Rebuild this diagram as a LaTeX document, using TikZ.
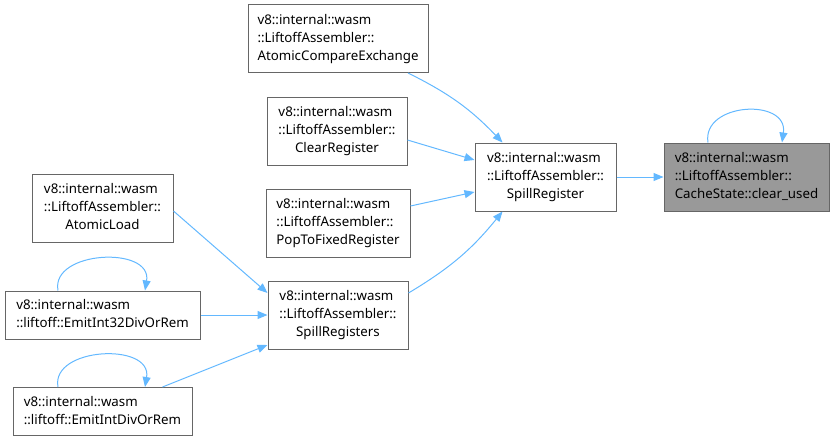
\documentclass[tikz,border=0pt]{standalone}
\usepackage{fontspec}
\setmainfont{Noto Sans}
\usetikzlibrary{arrows.meta}
\definecolor{edgeblue}{HTML}{63B8FF}
\definecolor{boxborder}{HTML}{666666}
\definecolor{hlfill}{HTML}{999999}
\newcommand\dlabel[3]{\begin{tabular}{@{}l@{}}#1\\#2\\\multicolumn{1}{@{}c@{}}{#3}\end{tabular}}
\newcommand\dlabelb[2]{\begin{tabular}{@{}l@{}}#1\\#2\end{tabular}}
\tikzset{
  fn/.style={draw=boxborder, line width=1pt, fill=white, inner sep=0pt, align=center,
    font=\fontsize{13.3}{18}\selectfont},
  hl/.style={fn, fill=hlfill},
  edge/.style={draw=edgeblue, line width=1pt, -{Triangle[length=10pt,width=8pt]}},
}
\begin{document}
\begin{tikzpicture}[x=1pt,y=-1pt]
\useasboundingbox (0,0) rectangle (834,442);
\node[fn, minimum width=180pt, minimum height=68pt] (ace) at (338,38.5) {\dlabel{v8::internal::wasm}{::LiftoffAssembler::}{AtomicCompareExchange}};
\node[fn, minimum width=140pt, minimum height=68pt] (cr) at (337,131) {\dlabel{v8::internal::wasm}{::LiftoffAssembler::}{ClearRegister}};
\node[fn, minimum width=144pt, minimum height=68pt] (ptf) at (338,223) {\dlabel{v8::internal::wasm}{::LiftoffAssembler::}{PopToFixedRegister}};
\node[fn, minimum width=141pt, minimum height=68pt] (sr) at (545.5,177) {\dlabel{v8::internal::wasm}{::LiftoffAssembler::}{SpillRegister}};
\node[hl, minimum width=165pt, minimum height=68pt] (cu) at (746.5,177) {\dlabel{v8::internal::wasm}{::LiftoffAssembler::}{CacheState::clear\_used}};
\node[fn, minimum width=141pt, minimum height=68pt] (al) at (102.5,208) {\dlabel{v8::internal::wasm}{::LiftoffAssembler::}{AtomicLoad}};
\node[fn, minimum width=140pt, minimum height=68pt] (srs) at (338,315) {\dlabel{v8::internal::wasm}{::LiftoffAssembler::}{SpillRegisters}};
\node[fn, minimum width=195pt, minimum height=48pt] (ei32) at (102.5,315) {\dlabelb{v8::internal::wasm}{::liftoff::EmitInt32DivOrRem}};
\node[fn, minimum width=179pt, minimum height=48pt] (eidr) at (102.5,411.5) {\dlabelb{v8::internal::wasm}{::liftoff::EmitIntDivOrRem}};

\draw[edge] ([xshift=70pt]ace.south) to[bend left=10] ([xshift=-43pt]sr.north);
\draw[edge] ([yshift=-9pt]cr.east) -- ([yshift=17pt]sr.west);
\draw[edge] ([yshift=17pt]ptf.east) -- ([yshift=-15pt]sr.west);
\draw[edge] ([yshift=22pt]srs.east) to[bend right=10] ([xshift=-43pt]sr.south);
\draw[edge] (sr.east) -- (cu.west);
\draw[edge] ([xshift=-38.5pt]cu.north) .. controls ([xshift=-45pt,yshift=40pt]cu.north) and ([xshift=42pt,yshift=45pt]cu.north) .. ([xshift=35.5pt]cu.north);
\draw[edge] ([yshift=-3pt]al.east) -- ([yshift=22pt]srs.west);
\draw[edge] (ei32.east) -- (srs.west);
\draw[edge] ([xshift=60pt]eidr.north) -- ([yshift=-30pt]srs.west);
\draw[edge] ([xshift=-44.5pt]ei32.north) .. controls ([xshift=-52pt,yshift=40pt]ei32.north) and ([xshift=50pt,yshift=45pt]ei32.north) .. ([xshift=42.5pt]ei32.north);
\draw[edge] ([xshift=-44.5pt]eidr.north) .. controls ([xshift=-52pt,yshift=40pt]eidr.north) and ([xshift=50pt,yshift=45pt]eidr.north) .. ([xshift=42.5pt]eidr.north);
\end{tikzpicture}
\end{document}
